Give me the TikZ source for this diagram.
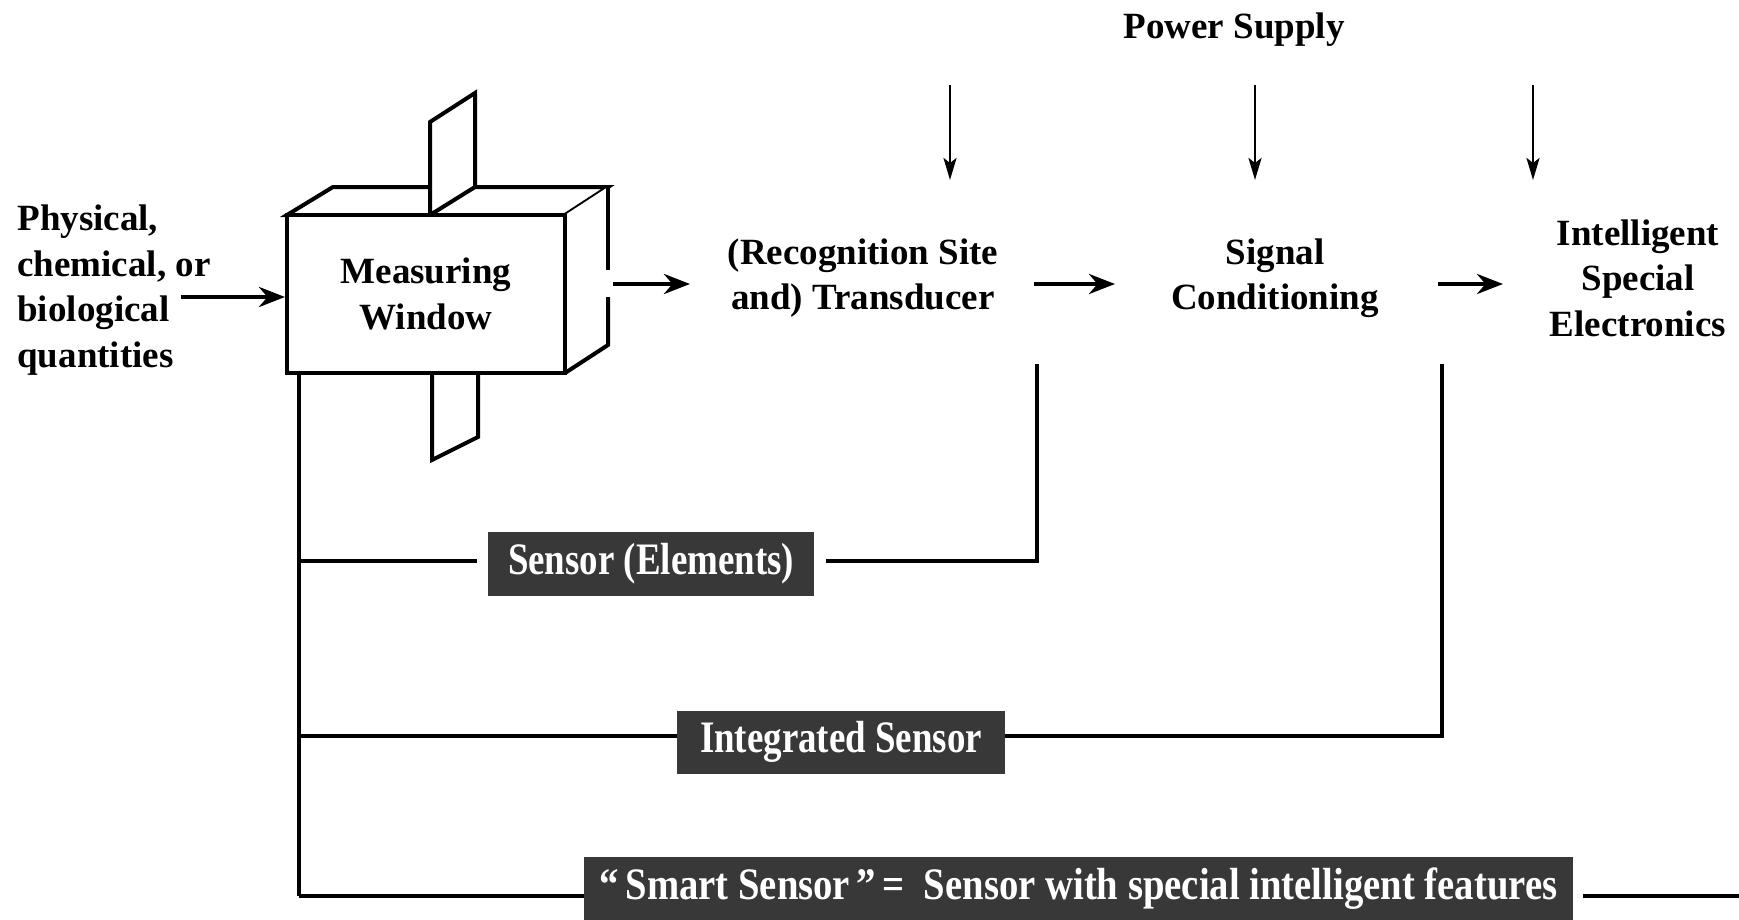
\documentclass[tikz,border=0pt]{standalone}
\usepackage{fontspec}
\setmainfont{Liberation Serif}
\usetikzlibrary{arrows.meta}
\begin{document}
\begin{tikzpicture}[x=0.5pt,y=-0.5pt,
  lbl/.style={font=\bfseries\fontsize{18.5}{22.7}\selectfont, align=center, inner sep=0pt},
  ln/.style={line width=1.8pt},
  edge3d/.style={line width=2pt, line join=miter},
  bigarrow/.style={line width=2.4pt, -{Stealth[length=13pt,width=10pt]}},
  pwarrow/.style={line width=1.3pt, -{Stealth[length=11pt,width=6.5pt,inset=2.5pt]}},
  tag/.style={fill=black!78, text=white, font=\bfseries\fontsize{22.5}{26}\selectfont, inner sep=0pt, anchor=center}
]
\useasboundingbox (0,0) rectangle (1739,920);

% input text
\node[lbl, align=left, anchor=west] (inp) at (17,290) {Physical,\\chemical, or\\biological\\quantities};

% measuring window (3D box)
\filldraw[edge3d, fill=white] (287,215) -- (333,187) -- (608,187) -- (565,215) -- cycle;
\fill[white] (565,215) -- (608,187) -- (608,345) -- (565,373) -- cycle;
\draw[edge3d] (565,373) -- (608,345) -- (608,297);
\draw[edge3d] (608,270) -- (608,187);
\filldraw[edge3d, fill=white] (430,215) -- (430,122) -- (475,93) -- (475,187) -- cycle;
\node[draw, edge3d, fill=white, minimum width=139pt, minimum height=79pt, lbl] (mw) at (426,294) {Measuring\\Window};
\draw[edge3d] (432,373) -- (432,460) -- (478,437) -- (478,373);

% input arrow
\coordinate (inA) at (181,297);
\draw[bigarrow] (inA) -- (inA -| mw.west);

% chain texts
\node[lbl] (rt) at (863,278) {(Recognition Site\\and) Transducer};
\node[lbl] (sc) at (1275,278) {Signal\\Conditioning};
\node[lbl] (ise) at (1638,278) {Intelligent\\Special\\Electronics};
\node[lbl] (ps) at (1234,30) {Power Supply};

% horizontal arrows
\coordinate (a1s) at (613,284); \coordinate (a1e) at (690,284);
\coordinate (a2s) at (1034,284); \coordinate (a2e) at (1115,284);
\coordinate (a3s) at (1438,284); \coordinate (a3e) at (1503,284);
\draw[bigarrow] (a1s) -- (a1e);
\draw[bigarrow] (a2s) -- (a2e);
\draw[bigarrow] (a3s) -- (a3e);

% power arrows
\coordinate (p1s) at (950,85); \coordinate (p1e) at (950,180);
\coordinate (p2s) at (1255,85); \coordinate (p2e) at (1255,180);
\coordinate (p3s) at (1533,85); \coordinate (p3e) at (1533,180);
\draw[pwarrow] (p1s) -- (p1e);
\draw[pwarrow] (p2s) -- (p2e);
\draw[pwarrow] (p3s) -- (p3e);

% sensor level tags
\node[tag, minimum width=163pt, minimum height=32pt] (se) at (651,564) {\scalebox{0.82}[1]{Sensor (Elements)}};
\node[tag, minimum width=164pt, minimum height=31.5pt] (is) at (841,742) {\scalebox{0.82}[1]{Integrated Sensor}};
\node[tag, minimum width=494.5pt, minimum height=31.5pt] (ss) at (1078.5,888.5) {\scalebox{0.86}[1]{“\,Smart Sensor\,”\,=\ \ Sensor with special intelligent features}};

% brackets
\coordinate (vtop) at (299,373);
\coordinate (vbot) at (299,896);
\coordinate (se1) at (1037,364);
\coordinate (is1) at (1442,364);
\coordinate (rend) at (1739,896);
\draw[ln] (vtop) -- (vbot);
\draw[ln] (vtop |- 0,561) -- ([xshift=-5.5pt]se.west |- 0,561);
\draw[ln] ([xshift=6pt]se.east |- 0,561) -- (se1 |- 0,561) -- (se1);
\draw[ln] (vtop |- 0,736) -- (is.west |- 0,736);
\draw[ln] (is.east |- 0,736) -- (is1 |- 0,736) -- (is1);
\draw[ln] (vbot) -- (ss.west |- vbot);
\draw[ln] ([xshift=5pt]ss.east |- vbot) -- (rend);
\end{tikzpicture}
\end{document}
